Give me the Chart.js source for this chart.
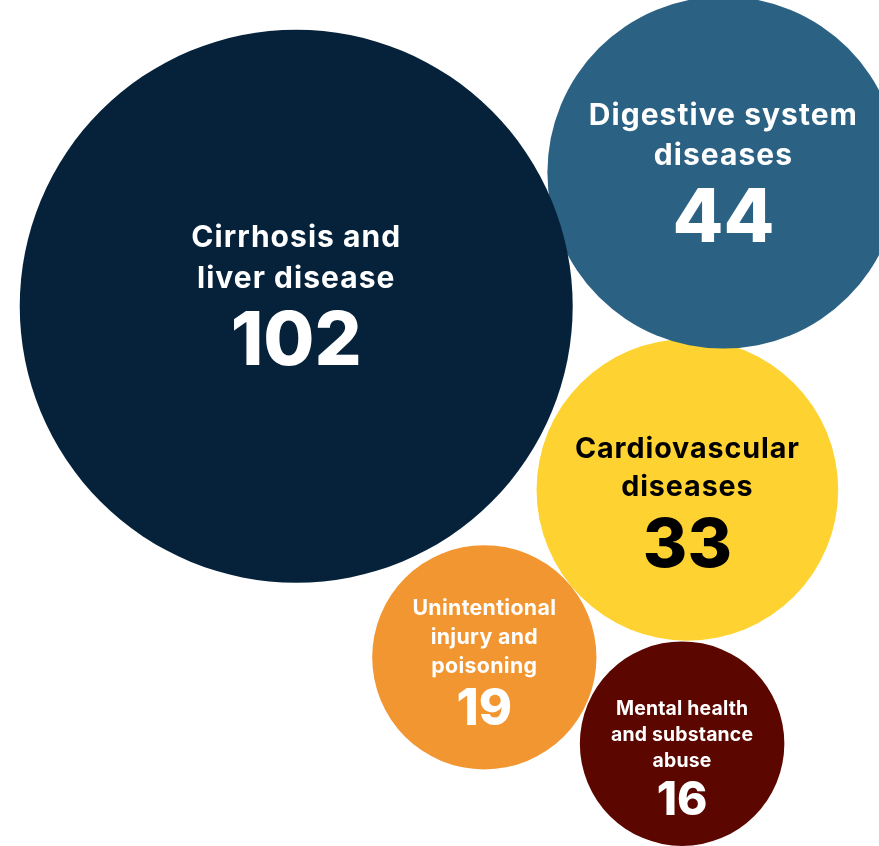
<!DOCTYPE html>
<html>
<head>
<meta charset="utf-8">
<script src="https://cdn.jsdelivr.net/npm/chart.js@4.4.1/dist/chart.umd.min.js"></script>
<style>
  html, body { margin: 0; padding: 0; background: #fff; }
  #wrap { width: 879px; height: 846px; position: relative; }
</style>
</head>
<body>
<div id="wrap"><canvas id="bubbleChart"></canvas></div>
<script>
// causes, smallest first so the big bubble is painted last (on top)
const categories = [
  ['Mental health', 'and substance', 'abuse'],
  ['Unintentional', 'injury and', 'poisoning'],
  ['Cardiovascular', 'diseases'],
  ['Digestive system', 'diseases'],
  ['Cirrhosis and', 'liver disease']
];
const deaths = [16, 19, 33, 44, 102];
// packed layout, percent of the chart box
const layoutX = [77.6, 55.1, 78.2, 82.3, 33.7];
const layoutY = [87.9, 77.7, 57.9, 20.4, 36.2];

const fillColors = ['#5b0700', '#f29632', '#fed230', '#2b6283', '#05223a'];
const textColors = ['#fff', '#fff', '#000', '#fff', '#fff'];
// vertical nudge of each text block, px at 879 wide
const labelNudge = [14, 5, 12, 0, -11];
const FONT = 'Inter, "Open Sans", sans-serif';

// size scale, a bit steeper than sqrt like the original
function bubbleRadius(chart, v){
  return 23.07 * Math.pow(v, 0.537) * chart.width / 879;
}

const bubbleLabels = {
  id: 'bubbleLabels',
  afterDatasetsDraw(chart){
    const ctx = chart.ctx;
    const k = chart.width / 879;
    const meta = chart.getDatasetMeta(0);
    meta.data.forEach((el, i) => {
      const r = el.options.radius;
      const L = Math.min(30 * k, r * 0.19);
      const N = Math.min(74 * k, r * 0.45);
      const lh = L * 1.35;
      const lines = categories[i];
      const capL = L * 0.73;
      const gap = N * 1.04;
      const blockH = capL + (lines.length - 1) * lh + gap;
      const base = el.y - blockH / 2 + capL + labelNudge[i] * k;
      ctx.save();
      ctx.fillStyle = textColors[i];
      ctx.textAlign = 'center';
      ctx.textBaseline = 'alphabetic';
      ctx.font = `700 ${L}px ${FONT}`;
      // wider tracking on the big labels only
      ctx.letterSpacing = Math.max(0, (L - 17) * 0.08).toFixed(2) + 'px';
      lines.forEach((t, j) => ctx.fillText(t, el.x, base + j * lh));
      ctx.letterSpacing = '0px';
      ctx.font = `800 ${N}px ${FONT}`;
      ctx.fillText(String(deaths[i]), el.x, base + (lines.length - 1) * lh + gap);
      ctx.restore();
    });
  }
};

new Chart(document.getElementById('bubbleChart'), {
  type: 'bubble',
  data: {
    datasets: [{
      data: deaths.map((v, i) => ({ x: layoutX[i], y: layoutY[i] })),
      backgroundColor: fillColors,
      borderWidth: 0,
      radius: ctx => bubbleRadius(ctx.chart, deaths[ctx.dataIndex]),
      hoverRadius: 0,
      clip: false
    }]
  },
  options: {
    responsive: true,
    maintainAspectRatio: false,
    animation: false,
    events: [],
    layout: { padding: 0, autoPadding: false },
    scales: {
      x: { type: 'linear', min: 0, max: 100, display: false },
      y: { type: 'linear', min: 0, max: 100, reverse: true, display: false }
    },
    plugins: { legend: { display: false }, tooltip: { enabled: false } }
  },
  plugins: [bubbleLabels]
});
</script>
</body>
</html>
